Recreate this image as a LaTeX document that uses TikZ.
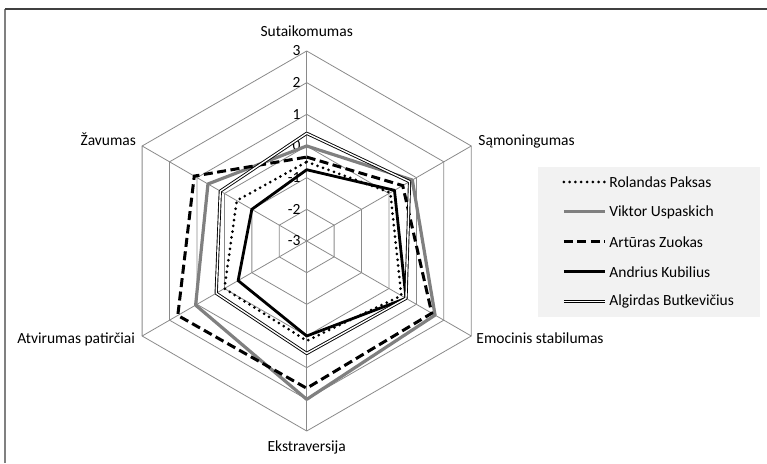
\documentclass[tikz,border=0pt]{standalone}
\usepackage{fontspec}
\setmainfont{Carlito}
\usetikzlibrary{positioning}
\usetikzlibrary{fit}
\usetikzlibrary{backgrounds}
\definecolor{webgray}{HTML}{8A8A8A}
\definecolor{seriesgray}{HTML}{808080}
\tikzset{every picture/.style={/utils/exec={\fontsize{15.5pt}{19pt}\selectfont}}}
\tikzset{web line/.style={draw=webgray, line width=0.8pt},
        axis label/.style={inner sep=0pt},
        tick label/.style={inner sep=0pt, anchor=east, xshift=-6pt},
        paksas/.style={draw=black, line width=3pt, line cap=round, dash pattern=on 0pt off 5.8pt},
        uspaskich/.style={draw=seriesgray, line width=3.2pt, line join=round},
        zuokas/.style={draw=black, line width=3pt, dash pattern=on 9pt off 4.5pt},
        kubilius/.style={draw=black, line width=2.8pt, line join=round},
        butkevicius/.style={draw=black, double=white, double distance=1.4pt, line width=0.9pt, line join=round},
        legend sample/.style={inner sep=0pt, minimum width=41pt, minimum height=0pt},
        legend entry/.style={inner sep=0pt, anchor=west},
        legend box/.style={fill=gray!10, inner xsep=26pt, inner ysep=15pt},
}

\begin{document}
\begin{tikzpicture}[x=1pt, y=1pt]
      \useasboundingbox (0,0) rectangle (767,463);
      % chart border, only top and left edge in view
      \draw[black!50, line width=1.2pt] (5,0) -- (5,454);
      \draw[black!75, line width=1.5pt] (5,454) -- (767,454);

      \begin{scope}[shift={(306.7,222)}, x=31.67pt, y=31.67pt]
      % RADAR WEB
      \coordinate (c) at (0,0);
      \coordinate (sut) at (90:6);
      \coordinate (sam) at (30:6);
      \coordinate (emo) at (-30:6);
      \coordinate (eks) at (-90:6);
      \coordinate (atv) at (210:6);
      \coordinate (zav) at (150:6);
      \draw[web line] (90:1) -- (30:1) -- (-30:1) -- (-90:1) -- (210:1) -- (150:1) -- cycle;
      \draw[web line] (90:2) -- (30:2) -- (-30:2) -- (-90:2) -- (210:2) -- (150:2) -- cycle;
      \draw[web line] (90:3) -- (30:3) -- (-30:3) -- (-90:3) -- (210:3) -- (150:3) -- cycle;
      \draw[web line] (90:4) -- (30:4) -- (-30:4) -- (-90:4) -- (210:4) -- (150:4) -- cycle;
      \draw[web line] (90:5) -- (30:5) -- (-30:5) -- (-90:5) -- (210:5) -- (150:5) -- cycle;
      \draw[web line] (sut) -- (sam) -- (emo) -- (eks) -- (atv) -- (zav) -- cycle;
      \draw[web line] (c) -- (sut);
      \draw[web line] (c) -- (sam);
      \draw[web line] (c) -- (emo);
      \draw[web line] (c) -- (eks);
      \draw[web line] (c) -- (atv);
      \draw[web line] (c) -- (zav);

      % scale
      \node[tick label] (t3) at (sut) {3};
      \node[tick label] (t2) at (90:5) {2};
      \node[tick label] (t1) at (90:4) {1};
      \node[tick label] (t0) at (90:3) {0};
      \node[tick label] (tm1) at (90:2) {-1};
      \node[tick label] (tm2) at (90:1) {-2};
      \node[tick label] (tm3) at (c) {-3};

      % axis names
      \node[axis label, above=14pt of sut] (lsut) {Sutaikomumas};
      \node[axis label, right=7pt of sam, anchor=base west] (lsam) {Sąmoningumas};
      \node[axis label, right=5pt of emo, anchor=base west, yshift=-7pt] (lemo) {Emocinis stabilumas};
      \node[axis label, below=10pt of eks] (leks) {Ekstraversija};
      \node[axis label, left=7pt of atv, anchor=base east, yshift=-7pt] (latv) {Atvirumas patirčiai};
      \node[axis label, left=6pt of zav, anchor=base east] (lzav) {Žavumas};

      % SERIES
      \draw[paksas] (90:2.5) -- (30:3.05) -- (-30:3.45) -- (-90:3.15) -- (210:3) -- (150:2.55) -- cycle;
      \draw[uspaskich] (90:3) -- (30:3.85) -- (-30:4.68) -- (-90:5) -- (210:4.05) -- (150:3.6) -- cycle;
      \draw[zuokas] (90:2.65) -- (30:3.5) -- (-30:4.56) -- (-90:4.65) -- (210:4.7) -- (150:4.1) -- cycle;
      \draw[kubilius] (90:2.25) -- (30:3.2) -- (-30:3.62) -- (-90:3) -- (210:2.5) -- (150:2) -- cycle;
      \draw[butkevicius] (90:3.4) -- (30:3.75) -- (-30:3.62) -- (-90:3.55) -- (210:3.3) -- (150:3.15) -- cycle;
      \end{scope}

      % LEGEND
      \node[legend sample] (s1) at (584.5,281) {};
      \node[legend sample, below=29.5pt of s1] (s2) {};
      \node[legend sample, below=29.5pt of s2] (s3) {};
      \node[legend sample, below=29.5pt of s3] (s4) {};
      \node[legend sample, below=29.5pt of s4] (s5) {};
      \node[legend entry, right=4pt of s1] (e1) {Rolandas Paksas};
      \node[legend entry, right=4pt of s2] (e2) {Viktor Uspaskich};
      \node[legend entry, right=4pt of s3] (e3) {Artūras Zuokas};
      \node[legend entry, right=4pt of s4] (e4) {Andrius Kubilius};
      \node[legend entry, right=4pt of s5] (e5) {Algirdas Butkevičius};
      \draw[paksas] (s1.west) -- (s1.east);
      \draw[uspaskich] (s2.west) -- (s2.east);
      \draw[zuokas] (s3.west) -- (s3.east);
      \draw[kubilius] (s4.west) -- (s4.east);
      \draw[butkevicius] (s5.west) -- (s5.east);
      \begin{scope}[on background layer]
        \node[legend box, fit=(s1)(s5)(e5.east)] (lgd) {};
      \end{scope}
\end{tikzpicture}
\end{document}
